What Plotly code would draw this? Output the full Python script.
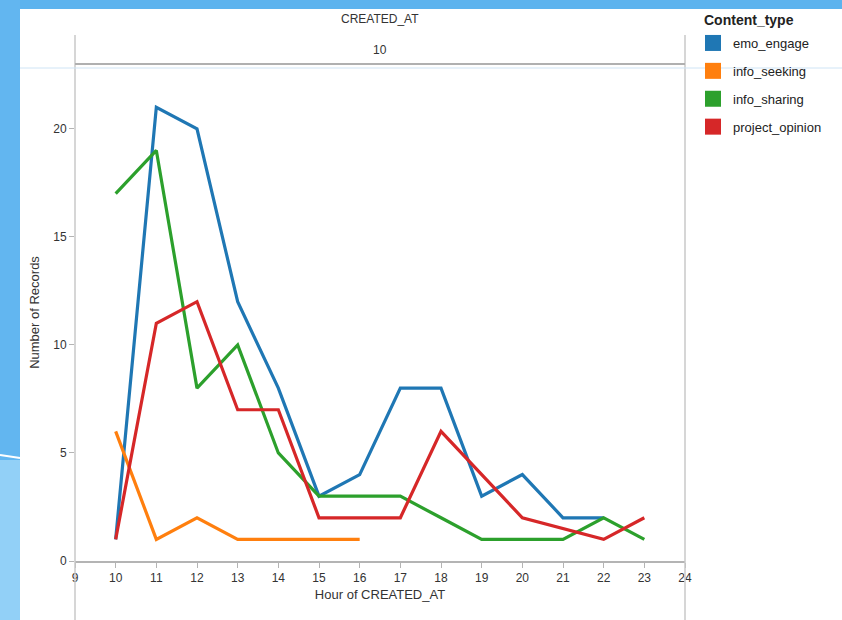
import plotly.graph_objects as go

categories = ["emo_engage", "info_seeking", "info_sharing", "project_opinion"]
colors = ["#1f77b4", "#ff7f0e", "#2ca02c", "#d62728"]

emo_engage_x = [10, 11, 12, 13, 14, 15, 16, 17, 18, 19, 20, 21, 22]
emo_engage_y = [1, 21, 20, 12, 8, 3, 4, 8, 8, 3, 4, 2, 2]
info_seeking_x = [10, 11, 12, 13, 14, 15, 16]
info_seeking_y = [6, 1, 2, 1, 1, 1, 1]
info_sharing_x = [10, 11, 12, 13, 14, 15, 16, 17, 18, 19, 20, 21, 22, 23]
info_sharing_y = [17, 19, 8, 10, 5, 3, 3, 3, 2, 1, 1, 1, 2, 1]
project_opinion_x = [10, 11, 12, 13, 14, 15, 16, 17, 18, 19, 20, 22, 23]
project_opinion_y = [1, 11, 12, 7, 7, 2, 2, 2, 6, 4, 2, 1, 2]

series = [
    (emo_engage_x, emo_engage_y),
    (info_seeking_x, info_seeking_y),
    (info_sharing_x, info_sharing_y),
    (project_opinion_x, project_opinion_y),
]

x_ticks = list(range(9, 25))
y_ticks = [0, 5, 10, 15, 20]

W, H = 842, 620
L, R, T, B = 75, 685, 64, 561


def px(p):
    return (p - L) / (R - L)


def py(p):
    return (B - p) / (B - T)


FONT = "Liberation Sans, Arial, sans-serif"
fig = go.Figure()

for name, color, (xs, ys) in zip(categories, colors, series):
    fig.add_trace(go.Scatter(
        x=xs, y=ys, mode="lines", name=name,
        line=dict(color=color, width=3.2),
        showlegend=False, hoverinfo="x+y+name",
    ))

for name, color in zip(categories, colors):
    fig.add_trace(go.Scatter(
        x=[None], y=[None], mode="markers", name=name,
        marker=dict(symbol="square", size=16, color=color),
        legendgroup=name, showlegend=True,
    ))

shapes = []
# slide background pieces
shapes.append(dict(type="rect", xref="paper", yref="paper", x0=px(0), x1=px(W), y0=py(0), y1=py(9),
                   fillcolor="#5db3ee", line=dict(width=0), layer="below"))
shapes.append(dict(type="rect", xref="paper", yref="paper", x0=px(0), x1=px(20), y0=py(0), y1=py(460),
                   fillcolor="#62b6f0", line=dict(width=0), layer="below"))
shapes.append(dict(type="rect", xref="paper", yref="paper", x0=px(0), x1=px(20), y0=py(460), y1=py(H),
                   fillcolor="#92d0f7", line=dict(width=0), layer="below"))
shapes.append(dict(type="line", xref="paper", yref="paper", x0=px(0), x1=px(20), y0=py(455), y1=py(458),
                   line=dict(color="#ffffff", width=2)))
# pane frame
shapes.append(dict(type="line", xref="paper", yref="paper", x0=px(L), x1=px(L), y0=py(35), y1=py(H),
                   line=dict(color="#c8c8c8", width=1.5)))
shapes.append(dict(type="line", xref="paper", yref="paper", x0=px(R), x1=px(R), y0=py(35), y1=py(H),
                   line=dict(color="#c8c8c8", width=1.5)))
shapes.append(dict(type="line", xref="paper", yref="paper", x0=px(L), x1=px(R), y0=py(64), y1=py(64),
                   line=dict(color="#b0b0b0", width=2)))
# slide guide line
shapes.append(dict(type="line", xref="paper", yref="paper", x0=px(20), x1=px(W), y0=py(68), y1=py(68),
                   line=dict(color="#cfe4f5", width=1)))

annotations = [
    dict(text="CREATED_AT", xref="paper", yref="paper", x=px(380), y=py(19), showarrow=False,
         font=dict(family=FONT, size=12, color="#333333"), xanchor="center", yanchor="middle"),
    dict(text="10", xref="paper", yref="paper", x=px(380), y=py(50), showarrow=False,
         font=dict(family=FONT, size=12, color="#333333"), xanchor="center", yanchor="middle"),
    dict(text="<b>Content_type</b>", xref="paper", yref="paper", x=px(702), y=py(20), showarrow=False,
         font=dict(family=FONT, size=14, color="#222222"), xanchor="left", yanchor="middle"),
]

fig.update_layout(
    width=W, height=H,
    margin=dict(l=L, r=W - R, t=T, b=H - B, pad=0, autoexpand=False),
    paper_bgcolor="#ffffff", plot_bgcolor="#ffffff",
    font=dict(family=FONT, size=12, color="#333333"),
    shapes=shapes, annotations=annotations,
    xaxis=dict(
        range=[9, 24], tickmode="array", tickvals=x_ticks, ticktext=[str(v) for v in x_ticks],
        showgrid=False, zeroline=False, showline=True, linecolor="#b4b4b4", linewidth=1.5,
        ticks="outside", ticklen=5, tickcolor="#b4b4b4", tickwidth=1,
        tickfont=dict(family=FONT, size=12, color="#333333"),
        title=dict(text="Hour of CREATED_AT", font=dict(family=FONT, size=13, color="#333333"), standoff=6),
        automargin=False,
    ),
    yaxis=dict(
        range=[0, 23], tickmode="array", tickvals=y_ticks, ticktext=[str(v) for v in y_ticks],
        showgrid=False, zeroline=False, showline=False,
        ticks="outside", ticklen=5, tickcolor="#b4b4b4", tickwidth=1,
        tickfont=dict(family=FONT, size=12, color="#333333"),
        title=dict(text="Number of Records", font=dict(family=FONT, size=13, color="#333333"), standoff=10),
        automargin=False,
    ),
    legend=dict(
        x=px(693), y=py(28), xanchor="left", yanchor="top",
        font=dict(family=FONT, size=13, color="#222222"),
        tracegroupgap=8, bgcolor="rgba(0,0,0,0)", itemwidth=30,
    ),
    showlegend=True,
)

fig.write_html(
    "out.html",
    config={"displayModeBar": False},
    post_script="document.body.style.margin='0';document.body.style.overflow='hidden';",
)
